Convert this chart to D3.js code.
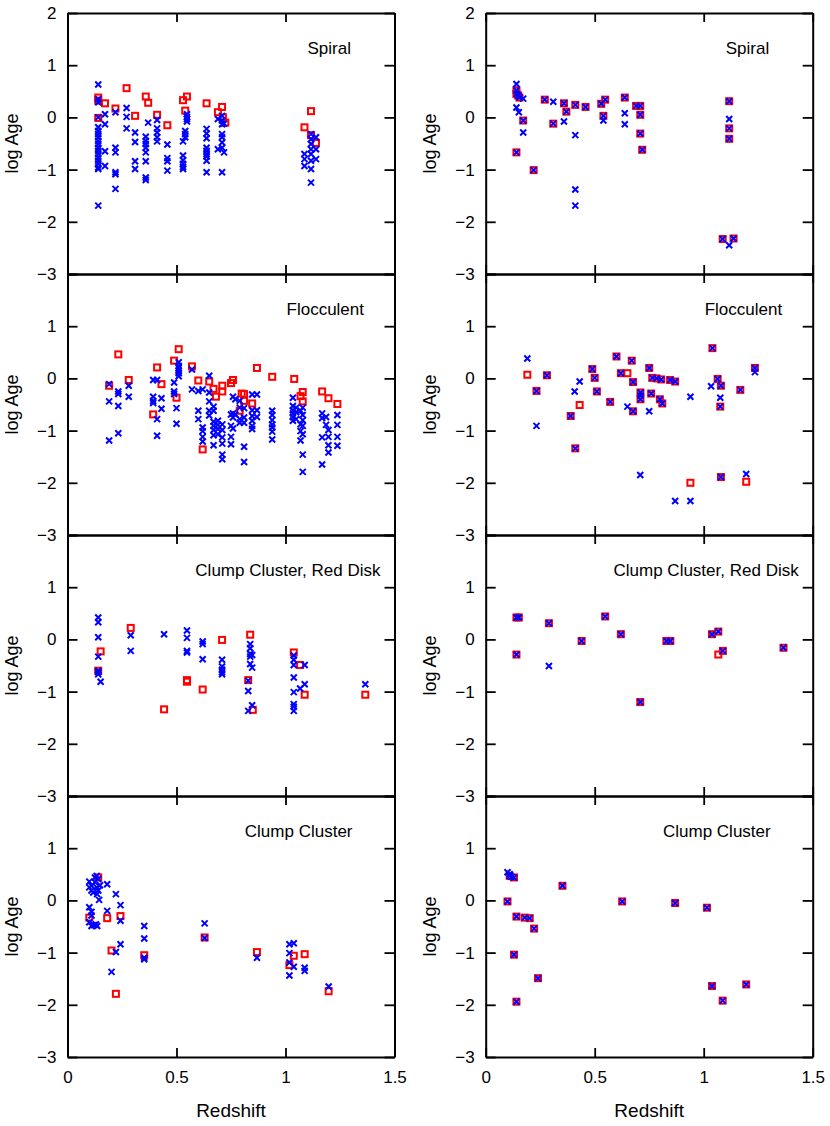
<!DOCTYPE html>
<html><head><meta charset="utf-8">
<script src="https://cdn.jsdelivr.net/npm/d3@7"></script>
<style>
body{margin:0;background:#fff}
svg{display:block}
text{font-family:"Liberation Sans",Arial,Helvetica,sans-serif;fill:#000}
</style>
</head><body>
<svg id="chart" width="830" height="1126"></svg>
<script>
// ---------------- data ----------------
const xTicks = [0, 0.5, 1, 1.5];
const yTicks = [2, 1, 0, -1, -2, -3];
const xTickLabels = ["0", "0.5", "1", "1.5"];
const panelTitles = ["Spiral", "Flocculent", "Clump Cluster, Red Disk", "Clump Cluster"];
const xLabel = "Redshift";
const yLabel = "log Age";

// LEFT column: red squares as [redshift, logAge]; blue crosses grouped [redshift, [logAge...]]
const spiralLeftSq = [[0.141,0.38],[0.141,0.32],[0.141,-0.01],[0.172,0.27],[0.22,0.17],[0.271,0.56],[0.31,0.03],[0.359,0.40],[0.37,0.28],[0.411,0.05],[0.458,-0.15],[0.53,0.33],[0.548,0.40],[0.54,0.13],[0.638,0.27],[0.69,0.10],[0.709,0.20],[0.713,0.0],[0.724,-0.10],[1.087,-0.19],[1.117,0.12],[1.117,-0.34],[1.14,-0.49]];
const spiralLeftX = [
  [0.141,[0.63,0.35,0.29,0,-0.19,-0.26,-0.32,-0.38,-0.45,-0.51,-0.58,-0.64,-0.70,-0.77,-0.83,-0.89,-0.96,-0.99,-1.69]],
  [0.172,[0.06,-0.13,-0.65,-0.93]],
  [0.22,[0.10,-0.58,-0.67,-1.05,-1.09,-1.37]],
  [0.271,[0.18,0.01,-0.21]],
  [0.31,[-0.29,-0.47,-0.84,-0.99]],
  [0.359,[-0.37,-0.45,-0.51,-0.58,-0.67,-0.84,-1.15,-1.20]],
  [0.37,[-0.10]],
  [0.411,[-0.05,-0.21,-0.29,-0.38,-0.46]],
  [0.458,[-0.52,-0.78,-0.84,-1.02]],
  [0.548,[0.06,0.01,-0.03,-0.08]],
  [0.54,[-0.26,-0.32,-0.38]],
  [0.53,[-0.46,-0.73,-0.82,-0.89,-0.95,-0.99]],
  [0.638,[-0.22,-0.31,-0.40,-0.58,-0.64,-0.70,-0.75,-0.83,-1.05]],
  [0.69,[-0.03,-0.61]],
  [0.709,[0.03,-0.06,-0.13,-0.32,-0.38,-0.48,-0.58,-1.05]],
  [0.718,[-0.12,-0.67]],
  [1.087,[-0.70,-0.80,-0.93]],
  [1.117,[-0.32,-0.42,-0.51,-0.61,-0.70,-0.83,-0.99,-1.25]],
  [1.14,[-0.38,-0.61,-0.80]]
];
const floccLeftSq = [[0.233,0.46],[0.191,-0.14],[0.281,-0.03],[0.411,0.21],[0.431,-0.11],[0.393,-0.69],[0.489,0.34],[0.51,0.56],[0.5,-0.37],[0.571,0.23],[0.6,-0.04],[0.65,-0.06],[0.67,-0.20],[0.681,-0.35],[0.71,-0.14],[0.71,-0.25],[0.75,-0.09],[0.759,-0.03],[0.799,-0.29],[0.81,-0.30],[0.81,-0.43],[0.79,-0.62],[0.847,-0.48],[0.62,-1.36],[0.869,0.20],[0.939,0.03],[1.04,-0.01],[1.079,-0.26],[1.069,-0.34],[1.079,-0.44],[1.168,-0.25],[1.197,-0.38],[1.238,-0.49]];
const floccLeftX = [
  [0.191,[-0.11,-0.44,-1.19]],
  [0.233,[-0.25,-0.30,-0.53,-1.05]],
  [0.281,[-0.14,-0.35]],
  [0.393,[-0.03,-0.35,-0.43,-0.47]],
  [0.411,[-0.03,-0.78,-1.10]],
  [0.431,[-0.38,-0.58]],
  [0.489,[-0.08,-0.25,-0.30]],
  [0.5,[-0.57,-0.87]],
  [0.51,[0.31,0.24,0.20,0.15,0.10,0.04]],
  [0.571,[0.17,-0.21]],
  [0.6,[-0.24,-0.62,-0.78]],
  [0.62,[-0.21,-0.94,-1.01,-1.12,-1.21]],
  [0.65,[0.05,-0.27,-0.44,-0.62,-0.71]],
  [0.67,[-0.54,-0.62,-0.83,-0.91,-0.99,-1.09,-1.28]],
  [0.69,[-0.81,-0.89,-0.97,-1.07]],
  [0.71,[-0.88,-0.99,-1.13,-1.25,-1.46,-1.55]],
  [0.75,[-0.69,-0.91,-1.12,-1.26]],
  [0.759,[-0.35,-0.67,-0.75,-0.96]],
  [0.77,[-0.40,-0.69]],
  [0.79,[-0.43,-0.56,-0.78,-0.85]],
  [0.81,[-0.57,-0.75,-0.85,-1.31,-1.60]],
  [0.847,[-0.31,-0.61,-0.72,-0.81,-0.91,-0.97]],
  [0.869,[-0.31,-0.61,-0.74]],
  [0.939,[-0.62,-0.70,-0.80,-0.88,-0.94,-1.02,-1.17]],
  [1.034,[-0.37,-0.53,-0.61,-0.67,-0.74,-0.81]],
  [1.049,[-0.56,-0.65,-0.78]],
  [1.069,[-0.62,-0.88,-1.01,-1.19]],
  [1.079,[-0.56,-0.70,-0.80,-0.91,-1.07,-1.46,-1.79]],
  [1.168,[-0.67,-0.76,-1.13,-1.65]],
  [1.186,[-0.74,-0.89]],
  [1.197,[-0.99,-1.12,-1.28,-1.42]],
  [1.238,[-0.70,-0.89,-1.12,-1.29]]
];
const ccrdLeftSq = [[0.152,-0.23],[0.141,-0.60],[0.29,0.22],[0.443,-1.34],[0.548,-0.78],[0.548,-0.81],[0.62,-0.96],[0.709,-0.01],[0.838,0.09],[0.829,-0.78],[0.85,-1.35],[1.038,-0.25],[1.067,-0.49],[1.088,-1.06],[1.366,-1.06]];
const ccrdLeftX = [
  [0.141,[0.42,0.33,0.04,-0.33,-0.60,-0.63,-0.67]],
  [0.152,[-0.81]],
  [0.29,[0.08,-0.22]],
  [0.443,[0.10]],
  [0.548,[0.17,0.03,-0.22,-0.25]],
  [0.62,[-0.04,-0.09,-0.38]],
  [0.709,[-0.39,-0.52,-0.58,-0.63,-0.67]],
  [0.829,[-0.79,-0.99,-1.37]],
  [0.838,[-0.09,-0.17,-0.28,-0.33,-0.47]],
  [0.847,[-0.30,-0.54,-1.26]],
  [1.038,[-0.31,-0.39,-0.49,-0.73,-1.01,-1.24,-1.29,-1.37]],
  [1.067,[-0.94]],
  [1.088,[-0.49,-0.86]],
  [1.366,[-0.86]]
];
const ccLeftSq = [[0.141,0.44],[0.10,-0.33],[0.182,-0.34],[0.243,-0.30],[0.202,-0.96],[0.222,-1.79],[0.352,-1.05],[0.629,-0.71],[0.869,-0.99],[1.018,-1.24],[1.038,-1.06],[1.088,-1.03],[1.198,-1.74]];
const ccLeftX = [
  [0.10,[0.36,0.25,-0.13,-0.42]],
  [0.11,[0.28,0.19,-0.22,-0.29,-0.49]],
  [0.118,[0.15]],
  [0.121,[-0.47]],
  [0.126,[0.44,0.35]],
  [0.13,[-0.46]],
  [0.134,[0.47,0.25]],
  [0.136,[0.12,-0.49]],
  [0.141,[0.41,0.19]],
  [0.145,[0.01]],
  [0.149,[0.29]],
  [0.182,[0.31,-0.20]],
  [0.202,[-1.37]],
  [0.222,[0.12,-0.99]],
  [0.243,[-0.09,-0.39,-0.84]],
  [0.352,[-0.49,-0.73,-1.10,-1.13]],
  [0.629,[-0.44,-0.72]],
  [0.869,[-1.10]],
  [1.018,[-0.84,-1.01,-1.19,-1.44]],
  [1.038,[-0.82,-1.27]],
  [1.088,[-1.29,-1.35]],
  [1.198,[-1.65]]
];

// RIGHT column: points with both markers, crosses only, squares only  [redshift, logAge]
const spiralRightBoth = [[0.141,0.52],[0.141,0.45],[0.149,0.42],[0.155,0.38],[0.172,-0.06],[0.141,-0.67],[0.22,-1.01],[0.271,0.34],[0.31,-0.12],[0.359,0.27],[0.37,0.11],[0.411,0.24],[0.458,0.20],[0.53,0.26],[0.548,0.34],[0.54,0.03],[0.638,0.38],[0.69,0.22],[0.709,0.22],[0.709,0.05],[0.709,-0.31],[0.718,-0.62],[1.117,0.31],[1.117,-0.21],[1.117,-0.41],[1.087,-2.33],[1.137,-2.32]];
const spiralRightX = [[0.141,0.64],[0.141,0.19],[0.152,0.10],[0.172,0.36],[0.172,-0.29],[0.31,0.30],[0.359,-0.08],[0.411,-0.34],[0.411,-1.38],[0.411,-1.69],[0.54,-0.06],[0.638,0.08],[0.638,-0.13],[1.117,-0.03],[1.117,-2.45]];
const spiralRightSq = [];
const floccRightBoth = [[0.281,0.06],[0.233,-0.24],[0.39,-0.72],[0.411,-1.34],[0.489,0.18],[0.5,0.01],[0.51,-0.25],[0.571,-0.45],[0.6,0.42],[0.62,0.10],[0.67,0.34],[0.676,-0.07],[0.71,-0.27],[0.71,-0.40],[0.676,-0.63],[0.75,0.20],[0.759,-0.29],[0.764,0.01],[0.784,0.0],[0.805,-0.02],[0.799,-0.40],[0.81,-0.48],[0.846,-0.03],[0.869,-0.06],[1.04,0.58],[1.064,-0.01],[1.079,-0.14],[1.076,-0.54],[1.079,-1.89],[1.168,-0.22],[1.235,0.20]];
const floccRightX = [[0.191,0.38],[0.233,-0.91],[0.408,-0.25],[0.431,-0.06],[0.65,-0.54],[0.709,-1.85],[0.71,-0.33],[0.75,-0.63],[0.869,-2.35],[0.939,-2.35],[0.939,-0.35],[1.034,-0.15],[1.076,-0.37],[1.195,-1.83],[1.235,0.12]];
const floccRightSq = [[0.191,0.07],[0.431,-0.51],[0.65,0.10],[0.939,-2.0],[1.195,-1.98]];
const ccrdRightBoth = [[0.141,0.42],[0.152,0.42],[0.141,-0.29],[0.29,0.31],[0.44,-0.03],[0.548,0.44],[0.62,0.10],[0.709,-1.20],[0.829,-0.03],[0.847,-0.03],[1.038,0.10],[1.067,0.15],[1.088,-0.22],[1.366,-0.16]];
const ccrdRightX = [[0.29,-0.51]];
const ccrdRightSq = [[1.067,-0.29]];
const ccRightBoth = [[0.10,-0.02],[0.11,0.47],[0.13,0.44],[0.141,-0.31],[0.179,-0.33],[0.202,-0.34],[0.222,-0.54],[0.13,-1.04],[0.24,-1.49],[0.141,-1.94],[0.352,0.28],[0.626,-0.02],[0.869,-0.05],[1.015,-0.14],[1.038,-1.64],[1.087,-1.92],[1.195,-1.61]];
const ccRightX = [[0.10,0.54],[0.11,0.50],[0.118,0.45]];
const ccRightSq = [];

// ---------------- layout ----------------
const colLeft = [67.5, 485.7];
const plotW = 327;
const rowTop = [13, 274, 535, 796];
const plotH = 261;
const RED = "#ff0000", BLUE = "#0000ff";

const flat = g => g.flatMap(([z, arr]) => arr.map(a => [z, a]));

const panels = [
  {row:0,col:0,sq:spiralLeftSq,x:flat(spiralLeftX),title:panelTitles[0],tEnd:283.5},
  {row:1,col:0,sq:floccLeftSq,x:flat(floccLeftX),title:panelTitles[1],tEnd:296.5},
  {row:2,col:0,sq:ccrdLeftSq,x:flat(ccrdLeftX),title:panelTitles[2],tEnd:313},
  {row:3,col:0,sq:ccLeftSq,x:flat(ccLeftX),title:panelTitles[3],tEnd:285},
  {row:0,col:1,sq:spiralRightBoth.concat(spiralRightSq),x:spiralRightBoth.concat(spiralRightX),title:panelTitles[0],tEnd:283.5},
  {row:1,col:1,sq:floccRightBoth.concat(floccRightSq),x:floccRightBoth.concat(floccRightX),title:panelTitles[1],tEnd:296.5},
  {row:2,col:1,sq:ccrdRightBoth.concat(ccrdRightSq),x:ccrdRightBoth.concat(ccrdRightX),title:panelTitles[2],tEnd:313},
  {row:3,col:1,sq:ccRightBoth.concat(ccRightSq),x:ccRightBoth.concat(ccRightX),title:panelTitles[3],tEnd:285}
];

const svg = d3.select("#chart");
const fmtX = d => xTickLabels[xTicks.indexOf(d)];
const fmtY = d => d3.format("d")(d);

panels.forEach(p => {
  const x0 = colLeft[p.col], y0 = rowTop[p.row];
  const xs = d3.scaleLinear().domain([0, 1.5]).range([x0, x0 + plotW]);
  const ys = d3.scaleLinear().domain([-3, 2]).range([y0 + plotH, y0]);
  const g = svg.append("g");

  // axes with inward ticks
  const bottom = d3.axisBottom(xs).tickValues(xTicks).tickSizeInner(-9).tickSizeOuter(0).tickPadding(14)
      .tickFormat(p.row === 3 ? fmtX : () => "");
  const top = d3.axisTop(xs).tickValues(xTicks).tickSizeInner(-9).tickSizeOuter(0).tickFormat(() => "");
  const yv = p.row === 0 ? yTicks : yTicks.filter(v => v < 2);
  const left = d3.axisLeft(ys).tickValues(yTicks).tickSizeInner(-10).tickSizeOuter(0).tickPadding(11)
      .tickFormat(d => yv.includes(d) ? fmtY(d) : "");
  const right = d3.axisRight(ys).tickValues(yTicks).tickSizeInner(-10).tickSizeOuter(0).tickFormat(() => "");

  const ax = [
    g.append("g").attr("transform", `translate(0,${y0 + plotH})`).call(bottom),
    g.append("g").attr("transform", `translate(0,${y0})`).call(top),
    g.append("g").attr("transform", `translate(${x0},0)`).call(left),
    g.append("g").attr("transform", `translate(${x0 + plotW},0)`).call(right)
  ];
  ax.forEach(a => {
    a.select(".domain").attr("stroke", "#000").attr("stroke-width", 2);
    a.selectAll(".tick line").attr("stroke", "#000").attr("stroke-width", 1.8);
    a.selectAll(".tick text").style("font-family", '"Liberation Sans",Arial,sans-serif').style("font-size", "17px").attr("fill", "#000");
  });

  // title
  g.append("text").attr("x", x0 + p.tEnd).attr("y", y0 + 41)
    .attr("text-anchor", "end").style("font-size", "17px").text(p.title);

  // y label
  g.append("text")
    .attr("transform", `translate(${x0 - 50},${y0 + plotH / 2}) rotate(-90)`)
    .attr("text-anchor", "middle").style("font-size", "18px").text(yLabel);

  // markers
  const s = 6;
  g.append("g").selectAll("rect").data(p.sq).join("rect")
    .attr("x", d => xs(d[0]) - s / 2).attr("y", d => ys(d[1]) - s / 2)
    .attr("width", s).attr("height", s)
    .attr("fill", "none").attr("stroke", RED).attr("stroke-width", 2);
  const h = 3;
  g.append("g").selectAll("path").data(p.x).join("path")
    .attr("d", d => {
      const cx = xs(d[0]), cy = ys(d[1]);
      return `M${cx - h},${cy - h}L${cx + h},${cy + h}M${cx - h},${cy + h}L${cx + h},${cy - h}`;
    })
    .attr("fill", "none").attr("stroke", BLUE).attr("stroke-width", 2);

  if (p.row === 3) {
    g.append("text").attr("x", x0 + plotW / 2).attr("y", 1117)
      .attr("text-anchor", "middle").style("font-size", "19px").text(xLabel);
  }
});
</script>
</body></html>
